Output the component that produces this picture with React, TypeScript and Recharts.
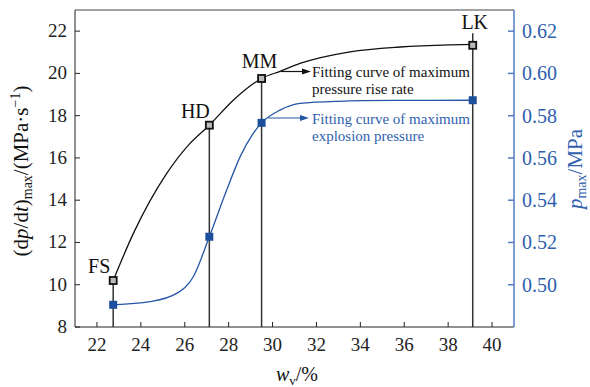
import {
  ComposedChart,
  Line,
  Scatter,
  XAxis,
  YAxis,
  ReferenceLine,
  Customized,
} from "recharts";

// sample names and water content w_v (%)
const SAMPLES = ["FS", "HD", "MM", "LK"];
const WV = [22.74, 27.12, 29.5, 39.12];
// measured (dp/dt)max, MPa/s
const RATE = [10.2, 17.55, 19.76, 21.33];
// measured pmax, MPa
const PMAX = [0.4905, 0.5227, 0.5766, 0.5873];
// top of each drop line (left axis units)
const STEM_TOP = [10.2, 17.55, 19.76, 21.9];

// fitting curves
const RATE_FIT_X = [22.74, 23.66, 25.18, 26.24, 27.12, 28.21, 29.5, 30.34, 31.25, 33.53, 35.8, 38.08, 39.12];
const RATE_FIT_Y = [10.2, 12.43, 15.27, 16.69, 17.55, 18.73, 19.76, 20.1, 20.47, 21.02, 21.25, 21.35, 21.37];
const P_FIT_X = [22.74, 24.42, 25.63, 26.39, 27.12, 27.91, 28.52, 29.12, 29.5, 30.34, 31.25, 33.0, 35.5, 39.12];
const P_FIT_Y = [0.4905, 0.492, 0.4959, 0.5038, 0.5227, 0.5448, 0.5605, 0.5716, 0.5766, 0.5826, 0.5858, 0.5868, 0.5872, 0.5873];

const X_TICKS = [22, 24, 26, 28, 30, 32, 34, 36, 38, 40];
const LEFT_TICKS = [8, 10, 12, 14, 16, 18, 20, 22];
const RIGHT_TICKS = [0.5, 0.52, 0.54, 0.56, 0.58, 0.6, 0.62];

const FONT = "'Liberation Serif', 'Times New Roman', serif";
const BLUE = "#2456a6";
const BLUE_AXIS = "#4f7cc2";
const BLUE_TEXT = "#2f5fae";
const LABEL_OFFSET: Record<string, [number, number]> = {
  FS: [-14, -15],
  HD: [-14, -14],
  MM: [-2, -17],
  LK: [2, -23],
};

const rateFit = RATE_FIT_X.map((x, i) => ({ x, y: RATE_FIT_Y[i] }));
const pFit = P_FIT_X.map((x, i) => ({ x, y: P_FIT_Y[i] }));
const ratePts = WV.map((x, i) => ({ x, y: RATE[i], name: SAMPLES[i] }));
const pPts = WV.map((x, i) => ({ x, y: PMAX[i] }));

function BottomTick(props: any) {
  const { x, y, payload } = props;
  return (
    <text x={x} y={y + 13} textAnchor="middle" fontFamily={FONT} fontSize={19} fill="#222">
      {payload.value}
    </text>
  );
}

function LeftTick(props: any) {
  const { x, y, payload } = props;
  return (
    <text x={x} y={y + 6} textAnchor="end" fontFamily={FONT} fontSize={19} fill="#222">
      {payload.value}
    </text>
  );
}

function RightTick(props: any) {
  const { x, y, payload } = props;
  return (
    <text x={x} y={y + 7} textAnchor="start" fontFamily={FONT} fontSize={20} fill={BLUE_TEXT}>
      {Number(payload.value).toFixed(2)}
    </text>
  );
}

function BlackSquare(props: any) {
  const { cx, cy, payload } = props;
  const off = LABEL_OFFSET[payload.name] || [0, -16];
  return (
    <g>
      <rect x={cx - 3.5} y={cy - 3.5} width={7} height={7} fill="#bbb" stroke="#111" strokeWidth={1.8} />
      <text
        x={cx + off[0]}
        y={cy + off[1]}
        textAnchor="middle"
        dominantBaseline="central"
        fontFamily={FONT}
        fontSize={20}
        fill="#111"
      >
        {payload.name}
      </text>
    </g>
  );
}

function BlueSquare(props: any) {
  const { cx, cy } = props;
  return <rect x={cx - 4} y={cy - 4} width={8} height={8} fill="#1d4f9c" />;
}

function Annotations() {
  return (
    <g fontFamily={FONT}>
      <line x1={281} y1={71.5} x2={304} y2={71.5} stroke="#111" strokeWidth={1.2} />
      <polygon points="311,71.5 302,68.5 302,74.5" fill="#111" />
      <text x={312} y={77} fontSize={15} fill="#111">Fitting curve of maximum</text>
      <text x={312} y={94} fontSize={15} fill="#111">pressure rise rate</text>

      <line x1={268} y1={118} x2={302} y2={118} stroke={BLUE} strokeWidth={1.2} />
      <polygon points="309,118 300,115 300,121" fill={BLUE} />
      <text x={312} y={124} fontSize={15} fill={BLUE_TEXT}>Fitting curve of maximum</text>
      <text x={312} y={141} fontSize={15} fill={BLUE_TEXT}>explosion pressure</text>

      <text x={297} y={381} textAnchor="middle" fontSize={20} fill="#111">
        <tspan fontStyle="italic">w</tspan>
        <tspan fontSize={13} dy={4}>v</tspan>
        <tspan dy={-4}>/%</tspan>
      </text>

      <text
        transform="translate(28,171) rotate(-90)"
        textAnchor="middle"
        fontSize={21}
        fill="#111"
      >
        <tspan>(d</tspan>
        <tspan fontStyle="italic">p</tspan>
        <tspan>/d</tspan>
        <tspan fontStyle="italic">t</tspan>
        <tspan>)</tspan>
        <tspan fontSize={14} dy={4}>max</tspan>
        <tspan dy={-4}>/(MPa·s</tspan>
        <tspan fontSize={14} dy={-8}>−1</tspan>
        <tspan dy={8}>)</tspan>
      </text>

      <text
        transform="translate(582,169) rotate(-90)"
        textAnchor="middle"
        fontSize={21}
        fill={BLUE_TEXT}
      >
        <tspan fontStyle="italic">p</tspan>
        <tspan fontSize={14} dy={4}>max</tspan>
        <tspan dy={-4}>/MPa</tspan>
      </text>
    </g>
  );
}

export default function App() {
  return (
    <div style={{ position: "absolute", left: 0, top: 0, background: "#fff" }}>
      <ComposedChart width={590} height={387} margin={{ top: 10, right: 0, bottom: 0, left: 0 }}>
        <XAxis
          type="number"
          dataKey="x"
          domain={[21, 41]}
          ticks={X_TICKS}
          allowDataOverflow
          height={60}
          stroke="#222"
          tickSize={-5}
          tickMargin={16}
          tick={BottomTick}
        />
        <YAxis
          yAxisId="left"
          type="number"
          domain={[8, 23]}
          ticks={LEFT_TICKS}
          allowDataOverflow
          width={75}
          stroke="#222"
          tickSize={-5}
          tickMargin={13}
          tick={LeftTick}
        />
        <YAxis
          yAxisId="right"
          orientation="right"
          type="number"
          domain={[0.48, 0.63]}
          ticks={RIGHT_TICKS}
          allowDataOverflow
          width={76}
          stroke={BLUE_AXIS}
          strokeWidth={1.5}
          tickSize={-6}
          tickMargin={14}
          tick={RightTick}
        />
        <ReferenceLine yAxisId="left" y={23} stroke="#444" strokeWidth={1.2} />
        {WV.map((x, i) => (
          <ReferenceLine
            key={SAMPLES[i]}
            yAxisId="left"
            segment={[
              { x, y: 8 },
              { x, y: STEM_TOP[i] },
            ]}
            stroke="#333"
            strokeWidth={1.5}
          />
        ))}
        <Line
          yAxisId="left"
          data={rateFit}
          dataKey="y"
          type="monotone"
          stroke="#111"
          strokeWidth={1.3}
          dot={false}
          isAnimationActive={false}
        />
        <Line
          yAxisId="right"
          data={pFit}
          dataKey="y"
          type="monotone"
          stroke={BLUE}
          strokeWidth={1.3}
          dot={false}
          isAnimationActive={false}
        />
        <Scatter yAxisId="left" data={ratePts} dataKey="y" shape={BlackSquare} isAnimationActive={false} />
        <Scatter yAxisId="right" data={pPts} dataKey="y" shape={BlueSquare} isAnimationActive={false} />
        <Customized component={Annotations} />
      </ComposedChart>
    </div>
  );
}
